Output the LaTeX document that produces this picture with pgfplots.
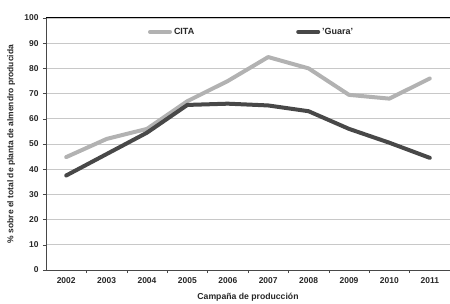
\documentclass[border=0pt]{standalone}
\usepackage{pgfplots}
\pgfplotsset{compat=1.18}
\usepackage{fontspec}
\setmainfont{Liberation Sans}
\definecolor{cita}{RGB}{178,178,178}
\definecolor{guara}{RGB}{72,72,72}
\definecolor{gridc}{RGB}{200,200,200}
\begin{document}
\begin{tikzpicture}
\path[use as bounding box] (-46bp,-34bp) rectangle (404bp,270bp);
\begin{axis}[
  scale only axis,
  width=404bp, height=252bp,
  at={(0,0)}, anchor=south west,
  xmin=-0.5, xmax=9.5,
  ymin=0, ymax=100,
  xtick={0,...,9},
  xticklabels={2002,2003,2004,2005,2006,2007,2008,2009,2010,2011},
  minor xtick={0.5,1.5,...,8.5},
  ytick={0,10,...,100},
  major x tick style={draw=none},
  minor x tick style={guara, line width=0.6pt},
  y tick style={guara, line width=0.6pt},
  tick align=outside,
  major tick length=3bp, minor tick length=3bp,
  ymajorgrids,
  grid style={gridc, line width=0.8pt},
  axis x line*=bottom, axis y line*=left,
  axis line style={guara, line width=1pt, -},
  extra y ticks={100}, extra y tick labels={},
  extra y tick style={grid style={black, line width=1pt}, major tick length=0pt},
  tick label style={font=\fontsize{8.5}{9}\selectfont\bfseries, text=black!85},
  /pgf/number format/assume math mode=true,
  xticklabel style={yshift=-1bp},
  yticklabel style={xshift=-1bp},
  xlabel={Campaña de producción},
  xlabel style={font=\fontsize{8.7}{9}\selectfont\bfseries, text=black!85, at={(axis description cs:0.5,0)}, anchor=center, yshift=-27bp},
  ylabel={\% sobre el total de planta de almendro producida},
  ylabel style={font=\fontsize{8.5}{9}\selectfont\bfseries, text=black!85, at={(axis description cs:-0.086,0.5)}, anchor=center},
  legend columns=2,
  legend style={draw=none, fill=none, inner sep=0pt, at={(axis description cs:0.252,0.945)}, anchor=west, font=\fontsize{9}{10}\selectfont\bfseries, text=black!85,
    /tikz/every even column/.append style={column sep=100bp}},
  legend image code/.code={\draw[#1, line cap=round] (0bp,0bp) -- (20bp,0bp);},
]
\addplot[cita, line width=4bp, line join=round, line cap=round] coordinates {
(0,44.8) (1,52) (2,56) (3,67) (4,75) (5,84.5) (6,80) (7,69.5) (8,68) (9,76)};
\addlegendentry{CITA}
\addplot[guara, line width=4bp, line join=round, line cap=round] coordinates {
(0,37.5) (1,46) (2,54.5) (3,65.5) (4,66) (5,65.3) (6,63) (7,56) (8,50.5) (9,44.5)};
\addlegendentry{'Guara'}
\end{axis}
\end{tikzpicture}
\end{document}
